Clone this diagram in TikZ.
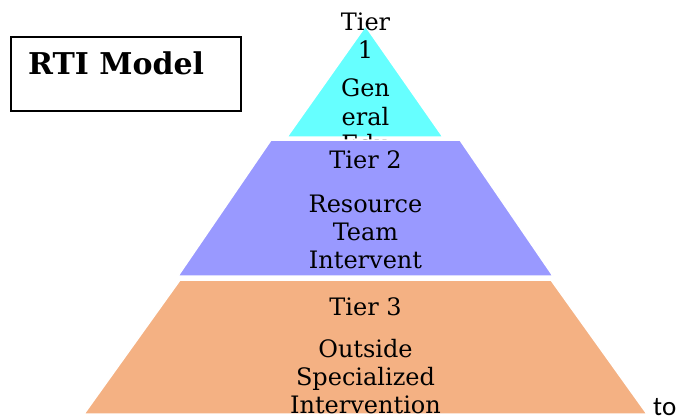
\documentclass[tikz,border=0pt]{standalone}
\usepackage{fontspec}
\setmainfont{DejaVu Serif}
\newfontfamily\sansfont{Carlito}

\definecolor{tierone}{HTML}{66FFFF}
\definecolor{tiertwo}{HTML}{9999FF}
\definecolor{tierthree}{HTML}{F4B183}

\begin{document}
\begin{tikzpicture}[x=1pt,y=-1pt,
    tier/.style={draw=white,line width=1.5pt},
    tiertext/.style={align=center,anchor=base,font=\fontsize{24}{28}\selectfont}]
    \useasboundingbox (0,0) rectangle (678,420);
    \clip (0,0) rectangle (678,420);

    % tier 1 (the node is placed by its last line)
    \filldraw[fill=tierone, tier] (365.5,26) -- (443,137) -- (287,137) -- cycle;
    \node[tiertext] (t1) at (365.5,153) {Tier\\1\\[11pt]Gen\\eral\\Edu};

    % tier 2
    \filldraw[fill=tiertwo, tier] (271,140) -- (460,140) -- (553,276) -- (178,276) -- cycle;
    \node[tiertext] (t2) at (365.5,268) {Tier 2\\[16pt]Resource\\Team\\Intervent};

    % tier 3
    \filldraw[fill=tierthree, tier] (180,280) -- (551,280) -- (647,414) -- (84,414) -- cycle;
    \node[tiertext] (t3) at (365.5,413) {Tier 3\\[14pt]Outside\\Specialized\\Intervention};

    % title box
    \node[draw, line width=1.6pt, minimum width=230pt, minimum height=74pt,
          anchor=north west, inner sep=0pt] (box) at (10,36) {};
    \node[anchor=base west, inner sep=0pt, font=\bfseries\fontsize{30}{34}\selectfont] (title) at (28,75) {RTI Model};

    \node[anchor=base west, inner sep=0pt, font=\sansfont\fontsize{27}{30}\selectfont] (to) at (653,415) {to};
\end{tikzpicture}
\end{document}
